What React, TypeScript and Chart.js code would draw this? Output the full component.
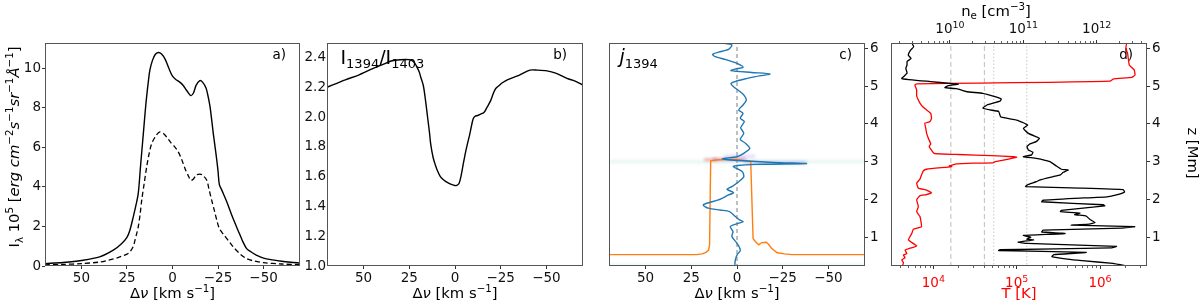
import React, { useEffect, useRef } from 'react';
import { Chart, registerables } from 'chart.js';

Chart.register(...registerables);

const FONT = '"DejaVu Sans", sans-serif';
Chart.defaults.font.family = FONT;

const H = 303;

// ---------------- Panel a: line profiles ----------------
const aSolidDv = [70, 60, 50, 40, 32.5, 28, 25, 23.4, 21.5, 20, 18.8, 17.5, 16, 15, 14.2, 13.3, 12.4, 11, 9.5, 7.8, 6, 4, 2, 0, -2, -4, -6, -8, -10, -11.5, -13, -15, -16.5, -18.4, -19.5, -20.6, -21.5, -22.4, -23.4, -24.3, -25, -25.7, -27, -30, -33, -36, -38.5, -40.7, -43, -46, -50, -55, -60, -65, -70];
const aSolidI = [0.12, 0.18, 0.28, 0.46, 0.8, 1.13, 1.45, 1.81, 2.5, 3.1, 3.67, 5.1, 6.71, 7.8, 8.57, 9.3, 9.92, 10.4, 10.7, 10.8, 10.72, 10.45, 10.0, 9.6, 9.42, 9.3, 9.12, 8.85, 8.62, 8.75, 9.15, 9.38, 9.3, 9.0, 8.6, 8.06, 7.4, 6.7, 6.0, 5.36, 4.8, 4.13, 3.85, 3.2, 2.46, 1.8, 1.26, 0.88, 0.72, 0.55, 0.4, 0.31, 0.24, 0.19, 0.15];
const aDashDv = [70, 60, 50, 40, 35, 30, 27, 25, 23.4, 21.5, 20.6, 19.5, 18.8, 17.8, 16.9, 15.5, 14.2, 12.8, 11.4, 9, 6.9, 5, 3, 1, -1, -3, -5, -7, -9, -10, -11.5, -13, -15, -16.5, -18.8, -20, -21.5, -23, -24.3, -25.7, -28, -31, -33.4, -37, -40.7, -45, -50, -60, -70];
const aDashI = [0.06, 0.08, 0.12, 0.2, 0.3, 0.42, 0.53, 0.6, 0.71, 1.0, 1.3, 1.7, 1.98, 2.6, 3.33, 4.2, 5.0, 5.7, 6.2, 6.6, 6.78, 6.7, 6.5, 6.25, 6.05, 5.8, 5.4, 4.9, 4.5, 4.33, 4.4, 4.6, 4.65, 4.6, 4.34, 3.9, 3.33, 2.8, 2.32, 1.9, 1.6, 1.25, 0.96, 0.62, 0.37, 0.25, 0.17, 0.1, 0.07];
const aXTicks = [50, 25, 0, -25, -50];
const aYTicks = [0, 2, 4, 6, 8, 10];

// ---------------- Panel b: ratio ----------------
const bDv = [70, 60, 53, 45, 40, 35, 30, 25, 22.5, 21, 19.5, 18.8, 17.3, 16, 15, 14, 13.3, 12, 10.8, 9.6, 8, 6, 4, 2, 0, -1, -2.2, -3.4, -4.6, -5.7, -6.8, -8, -9, -10, -11, -12.2, -14, -15.8, -17.5, -19.5, -21, -22.2, -24, -25.9, -28.6, -35, -41, -45, -50.3, -55, -61.2, -66, -70];
const bRatio = [2.2, 2.25, 2.28, 2.325, 2.35, 2.376, 2.385, 2.385, 2.37, 2.34, 2.3, 2.27, 2.21, 2.1, 2.0, 1.9, 1.82, 1.73, 1.68, 1.64, 1.6, 1.576, 1.56, 1.548, 1.54, 1.542, 1.554, 1.61, 1.69, 1.76, 1.82, 1.88, 1.94, 1.99, 2.005, 2.01, 2.02, 2.03, 2.065, 2.11, 2.16, 2.19, 2.21, 2.23, 2.25, 2.28, 2.315, 2.315, 2.31, 2.295, 2.26, 2.24, 2.215];
const bYTicks = [1.0, 1.2, 1.4, 1.6, 1.8, 2.0, 2.2, 2.4];

// ---------------- Panel c: velocity / tau=1 vs height ----------------
const cVelDv = [13.8, 8, 2.8, 4.6, 10, 13.3, 12, 6, 0, -3.3, 1, 3.3, -8, -18, -10, -3.7, 1, 3.3, 2, -1.8, -4, -5.1, -3.3, -0.9, -3.3, -1.8, -4, -2, -3.7, -1.8, -4.6, -7, -3.7, 0, 8, 5, -20, -38, -10, 0, 2, -2.8, -3.7, -0.9, 2.8, 5.5, 1.9, 4.6, 10.2, 16.6, 18.5, 15.7, 9.2, 4.1, 0.9, -1.4, -3.3, 1.9, 3.7, 2.2, 2.8, 0, -1.8, 0, 0.9, 1.2];
const cVelZ = [6.17, 6.14, 6.09, 5.97, 5.9, 5.84, 5.78, 5.7, 5.6, 5.5, 5.45, 5.41, 5.36, 5.32, 5.25, 5.18, 5.12, 5.07, 4.99, 4.85, 4.75, 4.63, 4.5, 4.37, 4.28, 4.15, 4.06, 3.9, 3.75, 3.59, 3.49, 3.35, 3.22, 3.13, 3.08, 3.05, 2.98, 2.95, 2.93, 2.9, 2.87, 2.74, 2.6, 2.47, 2.34, 2.27, 2.18, 2.12, 1.99, 1.9, 1.85, 1.77, 1.72, 1.68, 1.55, 1.46, 1.41, 1.33, 1.28, 1.15, 1.02, 0.84, 0.66, 0.53, 0.4, 0.27];
const cTauDv = [70, 22, 19, 17, 15.5, 15, 14.4, 10, 0, -7.5, -8.8, -9.5, -10.5, -12, -13.5, -16, -17.5, -19, -22, -26, -30, -70];
const cTauZ = [0.54, 0.54, 0.56, 0.6, 0.66, 0.8, 3.02, 3.05, 3.06, 3.0, 0.97, 0.92, 0.86, 0.8, 0.86, 0.87, 0.8, 0.7, 0.59, 0.56, 0.54, 0.54];
const cZeroDv = [0, 0];
const cZeroZ = [0, 7];
// emission (contribution function) streaks: from, to, height
const cBandFrom = [70, 18, 13, 7, -4, 70];
const cBandTo = [-70, 11, -5, -10, -38, -70];
const cBandZ = [3.0, 3.05, 3.06, 3.14, 2.98, 0.26];
const zTicks = [1, 2, 3, 4, 5, 6];

// ---------------- Panel d: atmosphere ----------------
const dRedT = [2.09e6, 2.04e6, 2.14e6, 2.24e6, 2.57e6, 2.63e6, 2.4e6, 1.45e6, 1.32e6, 2.3e5, 3.6e4, 6300, 6000, 6300, 6300, 6900, 7400, 8300, 9300, 9500, 9100, 7900, 8100, 8300, 8700, 9300, 8900, 10200, 20000, 50000, 91000, 100000, 69000, 55000, 52000, 30000, 19000, 15500, 16600, 13800, 8300, 7600, 7200, 6900, 6300, 6600, 8300, 9500, 8300, 6900, 6300, 6600, 6300, 6900, 7100, 7200, 5750, 5500, 5250, 5000, 6300, 5250, 4570, 4800, 4370, 4570, 4170, 4370, 4270];
const dRedZ = [6.15, 6.0, 5.87, 5.56, 5.43, 5.29, 5.23, 5.19, 5.13, 5.1, 5.08, 5.06, 5.03, 4.9, 4.74, 4.55, 4.46, 4.37, 4.28, 4.15, 4.06, 4.02, 3.88, 3.75, 3.62, 3.47, 3.4, 3.22, 3.19, 3.16, 3.13, 3.12, 3.04, 3.0, 2.97, 2.96, 2.94, 2.89, 2.87, 2.85, 2.8, 2.76, 2.65, 2.54, 2.43, 2.3, 2.25, 2.18, 2.13, 2.1, 1.99, 1.81, 1.68, 1.55, 1.41, 1.28, 1.21, 1.1, 1.02, 0.93, 0.77, 0.71, 0.66, 0.57, 0.53, 0.46, 0.4, 0.33, 0.25];
const dBlkNe = [3.0e9, 3.2e9, 2.9e9, 2.7e9, 2.95e9, 2.6e9, 2.6e9, 2.5e9, 2.6e9, 2.2e9, 5.4e9, 1.0e10, 1.3e10, 9.5e9, 8.5e9, 1.23e10, 1.7e10, 2.8e10, 4.1e10, 5.0e10, 4.8e10, 3.2e10, 2.8e10, 3.5e10, 4.6e10, 4.9e10, 5.9e10, 8.1e10, 1.0e11, 1.15e11, 1.0e11, 1.17e11, 1.5e11, 1.66e11, 1.5e11, 1.23e11, 1.12e11, 1.17e11, 1.35e11, 1.3e11, 1.0e11, 1.5e11, 2.3e11, 2.8e11, 3.3e11, 4.1e11, 3.5e11, 3.2e11, 2.5e11, 1.7e11, 1.5e11, 1.12e11, 1.07e11, 5.9e11, 2.3e12, 2.4e12, 1.86e12, 1.38e12, 5.0e11, 1.86e11, 1.78e11, 1.23e12, 1.29e12, 3.3e11, 3.2e11, 5.9e11, 5.0e11, 7.2e11, 8.1e11, 9.5e11, 7.9e11, 4.5e11, 3.3e12, 2.2e12, 1.86e11, 1.78e11, 3.7e11, 1.0e11, 1.26e11, 1.12e11, 1.38e11, 8.5e10, 1.12e11, 1.86e12, 1.6e12, 4.8e10, 4.6e10, 7.2e11, 2.6e11, 2.45e11, 4.0e11, 6.3e11, 1.66e12, 2.6e12];
const dBlkZ = [6.15, 6.04, 5.95, 5.82, 5.73, 5.65, 5.56, 5.47, 5.34, 5.2, 5.12, 5.07, 5.05, 5.01, 4.96, 4.93, 4.85, 4.81, 4.72, 4.66, 4.6, 4.5, 4.42, 4.37, 4.33, 4.19, 4.15, 4.1, 4.03, 3.97, 3.88, 3.75, 3.66, 3.62, 3.53, 3.47, 3.4, 3.31, 3.25, 3.18, 3.13, 3.09, 3.0, 2.89, 2.8, 2.78, 2.72, 2.65, 2.6, 2.52, 2.47, 2.38, 2.34, 2.3, 2.26, 2.2, 2.12, 2.07, 2.03, 1.98, 1.94, 1.86, 1.83, 1.71, 1.68, 1.64, 1.6, 1.56, 1.47, 1.39, 1.35, 1.32, 1.28, 1.24, 1.19, 1.14, 1.1, 1.05, 1.0, 0.95, 0.93, 0.87, 0.84, 0.76, 0.72, 0.67, 0.65, 0.6, 0.54, 0.49, 0.42, 0.38, 0.31, 0.24];
const dDashT = [16200, 41000];
const dDotT = [53000, 132000];
const dTTicks = [1e4, 1e5, 1e6];
const dNeTicks = [1e10, 1e11, 1e12];

// ---------------- helpers ----------------
type Seg = { t: string; s: number; it?: boolean; dy?: number };
const LBL = 14.8;
const SUP = 10.3;
const TICK = 13.5;

function drawRich(ctx: CanvasRenderingContext2D, segs: Seg[], x: number, y: number, align: 'left' | 'center' | 'right', color: string, rot = 0) {
  ctx.save();
  ctx.translate(x, y);
  if (rot) ctx.rotate(rot);
  ctx.fillStyle = color;
  ctx.textBaseline = 'alphabetic';
  ctx.textAlign = 'left';
  const font = (g: Seg) => `${g.it ? 'italic ' : ''}${g.s}px ${FONT}`;
  let w = 0;
  for (const g of segs) { ctx.font = font(g); w += ctx.measureText(g.t).width; }
  let cx = align === 'left' ? 0 : align === 'center' ? -w / 2 : -w;
  for (const g of segs) {
    ctx.font = font(g);
    ctx.fillText(g.t, cx, g.dy || 0);
    cx += ctx.measureText(g.t).width;
  }
  ctx.restore();
}

function frame(ctx: CanvasRenderingContext2D, chart: any) {
  const a = chart.chartArea;
  ctx.save();
  ctx.strokeStyle = '#555';
  ctx.lineWidth = 1;
  ctx.strokeRect(Math.round(a.left) + 0.5, Math.round(a.top) + 0.5, Math.round(a.right - a.left) - 1, Math.round(a.bottom - a.top) - 1);
  ctx.restore();
}

const minus = (v: number) => (v < 0 ? '\u2212' + Math.abs(v) : String(v));
const dvLabel: Seg[] = [{ t: '\u0394', s: LBL }, { t: '\u03bd', s: LBL, it: true }, { t: ' [km s', s: LBL }, { t: '\u22121', s: SUP, dy: -6 }, { t: ']', s: LBL }];

function scale(o: any) {
  const horiz = o.position === 'top' || o.position === 'bottom';
  return {
    type: o.type || 'linear',
    axis: horiz ? 'x' : 'y',
    position: o.position,
    min: o.min,
    max: o.max,
    reverse: !!o.reverse,
    afterBuildTicks: (s: any) => { s.ticks = o.ticks.map((v: number) => ({ value: v })); },
    afterFit: (s: any) => { if (horiz) s.height = o.size; else s.width = o.size; },
    grid: { display: true, drawOnChartArea: false, drawTicks: o.drawTicks !== false, tickLength: 3, tickColor: '#333', tickWidth: 1 },
    border: { display: false },
    ticks: {
      display: o.labels !== false,
      font: { family: FONT, size: TICK },
      color: '#111',
      padding: o.pad ?? 2,
      autoSkip: false,
      maxRotation: 0,
      minRotation: 0,
      callback: o.fmt || ((v: number) => minus(v)),
    },
  };
}

const baseOpts = (padding: any, scales: any) => ({
  animation: false,
  responsive: false,
  maintainAspectRatio: false,
  events: [],
  layout: { padding },
  plugins: { legend: { display: false }, tooltip: { enabled: false } },
  scales,
});

const pts = (xs: number[], ys: number[]) => xs.map((x, i) => ({ x, y: ys[i] }));

const lineDs = (data: any[], color: string, w: number, extra: any = {}) => ({
  data, borderColor: color, borderWidth: w, pointRadius: 0, fill: false, tension: 0, ...extra,
});

const blurPlugin = {
  id: 'blurds',
  beforeDatasetDraw(chart: any, args: any) {
    const ds = chart.data.datasets[args.index];
    if (ds.blur) { chart.ctx.save(); chart.ctx.filter = `blur(${ds.blur}px)`; }
  },
  afterDatasetDraw(chart: any, args: any) {
    const ds = chart.data.datasets[args.index];
    if (ds.blur) chart.ctx.restore();
  },
};

const decor = (after: (ctx: CanvasRenderingContext2D, c: any) => void, before?: (ctx: CanvasRenderingContext2D, c: any) => void) => ({
  id: 'decor',
  beforeDatasetsDraw(c: any) { if (before) before(c.ctx, c); },
  afterDraw(c: any) { after(c.ctx, c); },
});

// ---------------- configs ----------------
function makeA() {
  return {
    type: 'line',
    data: {
      datasets: [
        lineDs(pts(aSolidDv, aSolidI), '#000', 1.4, { tension: 0.3 }),
        lineDs(pts(aDashDv, aDashI), '#000', 1.3, { tension: 0.3, borderDash: [5, 3] }),
      ],
    },
    options: baseOpts({ left: 0, right: 10, top: 43, bottom: 0 }, {
      x: scale({ position: 'bottom', min: -70, max: 70, reverse: true, ticks: aXTicks, size: 37, pad: 1.5 }),
      y: scale({ position: 'left', min: 0, max: 11.28, ticks: aYTicks, size: 45, pad: 1 }),
    }),
    plugins: [decor((ctx, c) => {
      frame(ctx, c);
      const a = c.chartArea;
      drawRich(ctx, dvLabel, (a.left + a.right) / 2, 298, 'center', '#000');
      drawRich(ctx, [
        { t: 'I', s: LBL }, { t: '\u03bb', s: SUP, dy: 3.5 }, { t: ' 10', s: LBL }, { t: '5', s: SUP, dy: -6 },
        { t: ' [', s: LBL }, { t: 'erg cm', s: LBL, it: true }, { t: '\u22122', s: SUP, dy: -6 }, { t: 's', s: LBL, it: true },
        { t: '\u22121', s: SUP, dy: -6 }, { t: 'sr', s: LBL, it: true }, { t: '\u22121', s: SUP, dy: -6 },
        { t: '\u00c5', s: LBL, it: true }, { t: '\u22121', s: SUP, dy: -6 }, { t: ']', s: LBL },
      ], 19, 147, 'center', '#000', -Math.PI / 2);
      drawRich(ctx, [{ t: 'a)', s: 13.5 }], 286, 58.5, 'right', '#000');
    })],
  };
}

function makeB() {
  return {
    type: 'line',
    data: { datasets: [lineDs(pts(bDv, bRatio), '#000', 1.4, { tension: 0.3 })] },
    options: baseOpts({ left: 0, right: 7, top: 43, bottom: 0 }, {
      x: scale({ position: 'bottom', min: -70, max: 70, reverse: true, ticks: aXTicks, size: 37, pad: 1.5 }),
      y: scale({ position: 'left', min: 1.0, max: 2.497, ticks: bYTicks, size: 37, pad: 1, drawTicks: false, fmt: (v: number) => v.toFixed(1) }),
    }),
    plugins: [decor((ctx, c) => {
      frame(ctx, c);
      const a = c.chartArea;
      drawRich(ctx, dvLabel, (a.left + a.right) / 2, 298, 'center', '#000');
      drawRich(ctx, [{ t: 'I', s: 19 }, { t: '1394', s: 13, dy: 4 }, { t: '/', s: 19 }, { t: 'I', s: 19 }, { t: '1403', s: 13, dy: 4 }], 50.5, 64.3, 'left', '#000');
      drawRich(ctx, [{ t: 'b)', s: 13.5 }], 277, 58.5, 'right', '#000');
    })],
  };
}

function makeC() {
  const bandColors = ['rgba(140,210,195,0.2)', 'rgba(225,60,60,0.5)', 'rgba(140,60,180,0.45)', 'rgba(180,160,240,0.35)', 'rgba(70,80,190,0.3)', 'rgba(140,210,195,0.18)'];
  const bandWidths = [3.5, 2.5, 3, 3.5, 3, 3.5];
  const bands = cBandZ.map((z, i) => lineDs([{ x: cBandFrom[i], y: z }, { x: cBandTo[i], y: z }], bandColors[i], bandWidths[i], { blur: 1.5 }));
  return {
    type: 'line',
    data: {
      datasets: [
        lineDs(pts(cVelDv, cVelZ), '#1f77b4', 1.4, { tension: 0.25 }),
        lineDs(pts(cTauDv, cTauZ), '#ff7f0e', 1.4),
        lineDs(pts(cZeroDv, cZeroZ), '#aaaaaa', 1.5, { borderDash: [4, 3] }),
        ...bands,
      ],
    },
    options: baseOpts({ left: 9, right: 0, top: 43, bottom: 0 }, {
      x: scale({ position: 'bottom', min: -70, max: 70, reverse: true, ticks: aXTicks, size: 37, pad: 1.5 }),
      y: scale({ position: 'right', min: 0.24, max: 6.14, ticks: zTicks, size: 35, pad: 2 }),
    }),
    plugins: [blurPlugin, decor((ctx, c) => {
      frame(ctx, c);
      const a = c.chartArea;
      drawRich(ctx, dvLabel, (a.left + a.right) / 2, 298, 'center', '#000');
      drawRich(ctx, [{ t: 'j', s: 19, it: true }, { t: '1394', s: 13, dy: 5 }], 19.5, 63, 'left', '#000');
      drawRich(ctx, [{ t: 'c)', s: 13.5 }], 252, 58.5, 'right', '#000');
    })],
  };
}

function minorTicks(ctx: CanvasRenderingContext2D, sc: any, edge: number, dir: number) {
  ctx.save();
  ctx.strokeStyle = '#333';
  ctx.lineWidth = 0.8;
  const lo = Math.floor(Math.log10(sc.min));
  const hi = Math.ceil(Math.log10(sc.max));
  for (let e = lo; e <= hi; e++) {
    for (let m = 2; m <= 9; m++) {
      const v = m * Math.pow(10, e);
      if (v < sc.min || v > sc.max) continue;
      const px = Math.round(sc.getPixelForValue(v)) + 0.5;
      ctx.beginPath();
      ctx.moveTo(px, edge);
      ctx.lineTo(px, edge + dir * 2);
      ctx.stroke();
    }
  }
  ctx.restore();
}

function makeD() {
  const vl = (t: number, dash: number[], w: number) => lineDs([{ x: t, y: 0 }, { x: t, y: 7 }], '#c8c8c8', w, { borderDash: dash, xAxisID: 'x' });
  return {
    type: 'line',
    data: {
      datasets: [
        lineDs(pts(dBlkNe, dBlkZ), '#000', 1.3, { xAxisID: 'x2', tension: 0.1 }),
        lineDs(pts(dRedT, dRedZ), '#ff0000', 1.3, { xAxisID: 'x', tension: 0.1 }),
        ...dDashT.map((t) => vl(t, [5, 3], 1.2)),
        ...dDotT.map((t) => vl(t, [1.5, 2], 1)),
      ],
    },
    options: baseOpts({ left: 11, right: 23, top: 0, bottom: 0 }, {
      x: scale({ type: 'logarithmic', position: 'bottom', min: 3100, max: 3.66e6, ticks: dTTicks, size: 37, labels: false }),
      x2: scale({ type: 'logarithmic', position: 'top', min: 1.57e9, max: 4.85e12, ticks: dNeTicks, size: 43, labels: false }),
      y: scale({ position: 'right', min: 0.24, max: 6.14, ticks: zTicks, size: 30, pad: 2 }),
    }),
    plugins: [decor((ctx, c) => {
      frame(ctx, c);
      const a = c.chartArea;
      const sx = c.scales.x;
      const sx2 = c.scales.x2;
      minorTicks(ctx, sx, a.bottom, 1);
      minorTicks(ctx, sx2, a.top, -1);
      for (const v of dTTicks) {
        drawRich(ctx, [{ t: '10', s: TICK }, { t: String(Math.round(Math.log10(v))), s: 9.5, dy: -5.5 }], sx.getPixelForValue(v), 287, 'center', '#ff0000');
      }
      for (const v of dNeTicks) {
        drawRich(ctx, [{ t: '10', s: TICK }, { t: String(Math.round(Math.log10(v))), s: 9.5, dy: -5.5 }], sx2.getPixelForValue(v), 33, 'center', '#111');
      }
      drawRich(ctx, [{ t: 'T [K]', s: LBL }], (a.left + a.right) / 2, 298, 'center', '#ff0000');
      drawRich(ctx, [{ t: 'n', s: LBL }, { t: 'e', s: SUP, dy: 3 }, { t: ' [cm', s: LBL }, { t: '\u22123', s: SUP, dy: -6 }, { t: ']', s: LBL }], 116, 16, 'center', '#000');
      drawRich(ctx, [{ t: 'z [Mm]', s: LBL }], 308, 153, 'center', '#000', Math.PI / 2);
    }, (ctx) => {
      drawRich(ctx, [{ t: 'd)', s: 13.5 }], 253, 58.5, 'right', '#000');
    })],
  };
}

function Panel({ left, width, make }: { left: number; width: number; make: () => any }) {
  const ref = useRef<HTMLCanvasElement | null>(null);
  useEffect(() => {
    if (!ref.current) return;
    const ch = new Chart(ref.current, make());
    return () => ch.destroy();
  }, [make]);
  return <canvas ref={ref} width={width} height={H} style={{ position: 'absolute', left, top: 0, width, height: H, display: 'block' }} />;
}

export default function App() {
  return (
    <div style={{ position: 'fixed', left: 0, top: 0, width: 1200, height: H, background: '#fff', overflow: 'hidden' }}>
      <Panel left={0} width={310} make={makeA} />
      <Panel left={290} width={300} make={makeB} />
      <Panel left={600} width={300} make={makeC} />
      <Panel left={880} width={320} make={makeD} />
    </div>
  );
}
